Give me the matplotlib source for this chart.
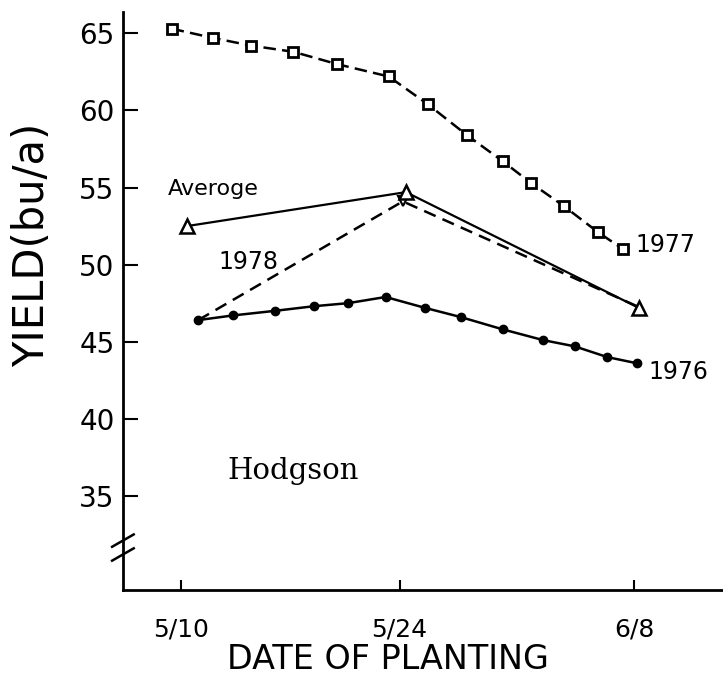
import matplotlib.pyplot as plt
from matplotlib.transforms import blended_transform_factory

# x = days after 5/10
tick_days = [0, 14, 29]
tick_labels = ["5/10", "5/24", "6/8"]

day_1977 = [-0.6, 2.05, 4.5, 7.2, 10.0, 13.3, 15.8, 18.3, 20.6, 22.4, 24.5, 26.7, 28.3]
yield_1977 = [65.3, 64.7, 64.2, 63.8, 63.0, 62.2, 60.4, 58.4, 56.7, 55.3, 53.8, 52.1, 51.0]

day_1976 = [1.1, 3.3, 6.0, 8.5, 10.7, 13.1, 15.6, 17.9, 20.6, 23.2, 25.2, 27.3, 29.2]
yield_1976 = [46.4, 46.7, 47.0, 47.3, 47.5, 47.9, 47.2, 46.6, 45.8, 45.1, 44.7, 44.0, 43.6]

day_avg = [0.4, 14.4, 29.3]
yield_avg = [52.5, 54.7, 47.2]

day_1978 = [1.1, 14.2, 29.2]
yield_1978 = [46.4, 54.1, 47.3]

fig = plt.figure(figsize=(7.23, 6.90), dpi=100)
ax = fig.add_axes([0.170, 0.145, 0.830, 0.838])

ax.plot(day_1977, yield_1977, color="black", lw=1.8, ls=(0, (5, 2.5)),
        marker="s", ms=6.5, mfc="white", mec="black", mew=2)
ax.plot(day_1976, yield_1976, color="black", lw=1.8,
        marker="o", ms=6, mfc="black", mec="black")
ax.plot(day_1978, yield_1978, color="black", lw=1.8, ls=(0, (5, 3)),
        marker="v", ms=7, mfc="white", mec="black", mew=1.5, markevery=[1])
ax.plot(day_avg, yield_avg, color="black", lw=1.6,
        marker="^", ms=10, mfc="white", mec="black", mew=1.8)

ax.set_xlim(-3.72, 34.7)
ax.set_ylim(28.9, 66.4)

for s in ["top", "right"]:
    ax.spines[s].set_visible(False)
for s in ["left", "bottom"]:
    ax.spines[s].set_linewidth(2.0)

ax.set_xticks(tick_days)
ax.set_xticklabels(tick_labels)
ax.set_yticks([35, 40, 45, 50, 55, 60, 65])
ax.tick_params(axis="x", direction="in", length=7, width=1.5, pad=20, labelsize=18)
ax.tick_params(axis="y", direction="in", length=11, width=1.5, pad=6, labelsize=20)

ax.set_ylabel("YIELD(bu/a)", fontsize=30, va="center")
ax.yaxis.set_label_coords(-0.152, 0.597)
ax.set_xlabel("DATE OF PLANTING", fontsize=24, va="center")
ax.xaxis.set_label_coords(0.442, -0.121)

# axis break marks
tr = blended_transform_factory(ax.transAxes, ax.transData)
for yb in [31.2, 32.1]:
    ax.plot([-0.018, 0.018], [yb - 0.4, yb + 0.4], color="black", lw=1.8,
            transform=tr, clip_on=False)

ax.text(-0.83, 54.9, "Averoge", fontsize=16, ha="left", va="center")
ax.text(2.37, 50.2, "1978", fontsize=17, ha="left", va="center")
ax.text(29.1, 51.3, "1977", fontsize=17, ha="left", va="center")
ax.text(29.9, 43.05, "1976", fontsize=17, ha="left", va="center")
ax.text(3.0, 36.6, "Hodgson", fontsize=21, ha="left", va="center", family="DejaVu Serif")

fig.savefig("out.png", dpi=100)
